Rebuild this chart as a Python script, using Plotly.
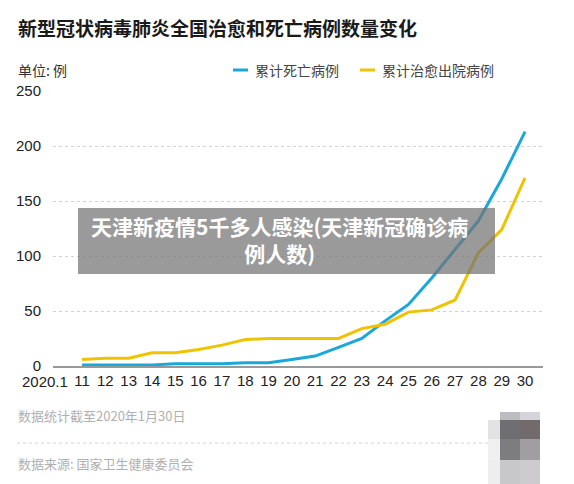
import plotly.graph_objects as go

# ---- data ----
days = list(range(11, 31))
deaths = [1, 1, 1, 1, 2, 2, 2, 3, 3, 6, 9, 17, 25, 41, 56, 80, 106, 132, 170, 213]
cured = [6, 7, 7, 12, 12, 15, 19, 24, 25, 25, 25, 25, 34, 38, 49, 51, 60, 103, 124, 171]
series_names = ["累计死亡病例", "累计治愈出院病例"]
series_colors = ["#1aa8dc", "#f0c300"]
first_tick = "2020.1"
tick_vals = days
tick_text = [str(d) for d in days]
y_ticks = [0, 50, 100, 150, 200, 250]

title = "新型冠状病毒肺炎全国治愈和死亡病例数量变化"
unit = "单位: 例"
note1 = "数据统计截至2020年1月30日"
note2 = "数据来源: 国家卫生健康委员会"
overlay_text = "天津新疫情5千多人感染(天津新冠确诊病<br>例人数)"

W, H = 574, 484
L, R, T, B = 53, 31, 91, 118
PW, PH = W - L - R, H - T - B


def px(x):
    return (x - L) / PW


def py(y):
    return (H - B - y) / PH


CJK = "Noto Sans CJK SC"
NUM = "Liberation Sans"

fig = go.Figure()
for vals, name, col in zip([deaths, cured], series_names, series_colors):
    fig.add_trace(go.Scatter(x=days, y=vals, mode="lines", name=name,
                             line=dict(color=col, width=3), cliponaxis=False,
                             showlegend=False))

ann = []
shapes = []
ann.append(dict(text="<b>%s</b>" % title, x=px(16), y=py(27), xref="paper", yref="paper",
                xanchor="left", yanchor="middle", showarrow=False,
                font=dict(family=CJK, size=19, color="#1a1a1a")))
ann.append(dict(text=unit, x=px(16), y=py(70), xref="paper", yref="paper",
                xanchor="left", yanchor="middle", showarrow=False,
                font=dict(family=CJK, size=14, color="#333333")))
# first x label (sits left of the axis start)
ann.append(dict(text=first_tick, x=px(45), y=py(381), xref="paper", yref="paper",
                xanchor="center", yanchor="middle", showarrow=False,
                font=dict(family=NUM, size=15, color="#222222")))
# legend (manual)
leg_pos = [233, 360]
for lx, name, col in zip(leg_pos, series_names, series_colors):
    shapes.append(dict(type="line", xref="paper", yref="paper", x0=px(lx), x1=px(lx + 15),
                       y0=py(70), y1=py(70), line=dict(color=col, width=3)))
    ann.append(dict(text=name, x=px(lx + 20), y=py(70), xref="paper", yref="paper",
                    xanchor="left", yanchor="middle", showarrow=False,
                    font=dict(family=CJK, size=14, color="#444444")))
# footer
ann.append(dict(text=note1, x=px(16), y=py(415), xref="paper", yref="paper",
                xanchor="left", yanchor="middle", showarrow=False,
                font=dict(family=CJK, size=13, color="#b0b0b0")))
ann.append(dict(text=note2, x=px(16), y=py(463), xref="paper", yref="paper",
                xanchor="left", yanchor="middle", showarrow=False,
                font=dict(family=CJK, size=13, color="#b0b0b0")))
shapes.append(dict(type="line", xref="paper", yref="paper", x0=px(17), x1=px(491),
                   y0=py(443), y1=py(443), line=dict(color="#d0d0d0", width=1, dash="dot")))

# blurred code block
cols = [(488, 500), (500, 520), (520, 540)]
rows = [(412, 420), (420, 439), (439, 460), (460, 484)]
colors = [
    [None, "#bdbcc1", "#d5d4d8"],
    ["#e3e3e5", "#6f6e73", "#726a6b"],
    ["#f0f0f1", "#7d7c81", "#a09ea1"],
    ["#eeeeef", "#c8c7cb", "#cdcbce"],
]
for ri, (y0, y1) in enumerate(rows):
    for ci, (x0, x1) in enumerate(cols):
        c = colors[ri][ci]
        if c is None:
            continue
        shapes.append(dict(type="rect", xref="paper", yref="paper", x0=px(x0), x1=px(x1),
                           y0=py(y0), y1=py(y1), fillcolor=c, line=dict(width=0), layer="above"))

# overlay banner
shapes.append(dict(type="rect", xref="paper", yref="paper", x0=px(78), x1=px(495),
                   y0=py(208), y1=py(274), fillcolor="rgba(115,115,115,0.72)",
                   line=dict(width=0), layer="above"))
ann.append(dict(text="<b>%s</b>" % overlay_text, x=px(279), y=py(240), xref="paper", yref="paper",
                xanchor="center", yanchor="middle", showarrow=False, align="center",
                font=dict(family=CJK, size=21, color="#ffffff")))

fig.update_layout(
    width=W, height=H, margin=dict(l=L, r=R, t=T, b=B),
    paper_bgcolor="#ffffff", plot_bgcolor="#ffffff",
    annotations=ann, shapes=shapes, showlegend=False,
    xaxis=dict(range=[9.755, 30.77], tickmode="array", tickvals=tick_vals, ticktext=tick_text,
               showgrid=False, zeroline=False, showline=True, linecolor="#999999", linewidth=1.5,
               ticks="", tickfont=dict(family=NUM, size=15, color="#222222")),
    yaxis=dict(range=[0, 250], tickmode="array", tickvals=y_ticks, showgrid=True,
               gridcolor="#d2d2d2", griddash="dot", gridwidth=1, zeroline=False,
               ticks="", ticklabelstandoff=11, tickfont=dict(family=NUM, size=15, color="#222222")),
)
fig.write_html("out.html")
